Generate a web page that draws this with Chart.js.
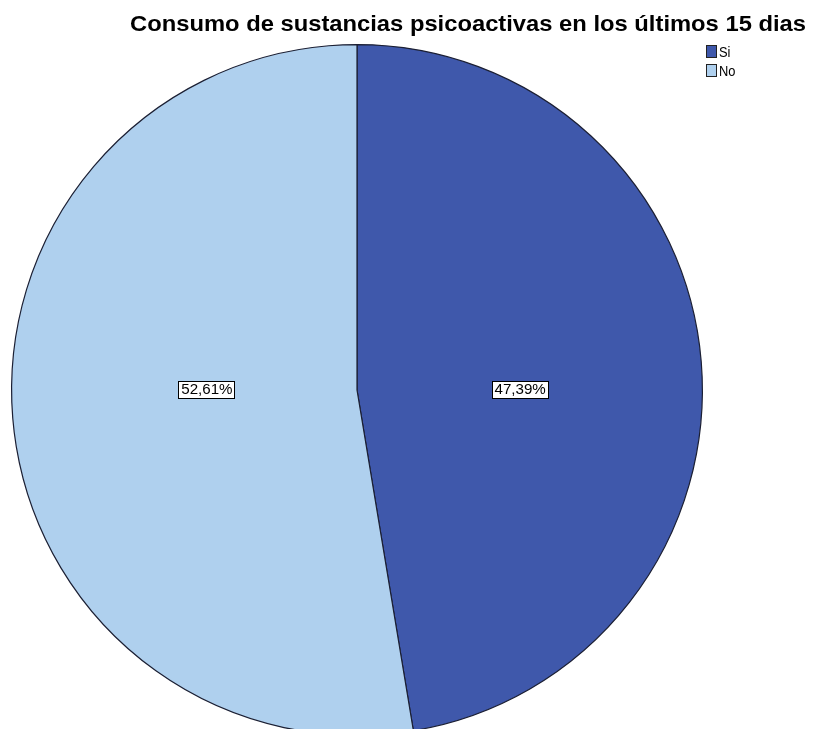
<!DOCTYPE html>
<html>
<head>
    <meta charset="utf-8">
    <title>Consumo de sustancias psicoactivas</title>
    <script src="https://cdn.jsdelivr.net/npm/chart.js@4.4.0/dist/chart.umd.min.js"></script>
    <style>
        html, body { margin: 0; padding: 0; background: #fff; overflow: hidden; }
        #wrap { width: 813px; height: 760px; position: relative; }
    </style>
</head>
<body>
    <div id="wrap"><canvas id="chart"></canvas></div>
    <script>
        const chartTitle = 'Consumo de sustancias psicoactivas en los últimos 15 dias';
        const categories = ['Si', 'No'];
        const percents = [47.39, 52.61];
        const sliceColors = ['#3f58ab', '#afd0ee'];

        const fmt = v => v.toFixed(2).replace('.', ',') + '%';

        // draw text squeezed/stretched horizontally
        function wideText(ctx, txt, cx, y, sx) {
            ctx.save();
            ctx.translate(cx, y);
            ctx.scale(sx, 1);
            ctx.fillText(txt, 0, 0);
            ctx.restore();
        }

        // title, small legend top-right and boxed percentage labels
        const decorations = {
            id: 'decorations',
            afterDraw(chart) {
                const ctx = chart.ctx;
                ctx.save();

                ctx.font = 'bold 22px "Liberation Sans", Arial, sans-serif';
                ctx.fillStyle = '#000';
                ctx.textAlign = 'center';
                ctx.textBaseline = 'alphabetic';
                const tw = ctx.measureText(chartTitle).width;
                wideText(ctx, chartTitle, 468, 31, 676 / tw);

                ctx.font = '14px "Liberation Sans", Arial, sans-serif';
                ctx.textAlign = 'left';
                categories.forEach((c, i) => {
                    const y = 45 + i * 19;
                    ctx.fillStyle = sliceColors[i];
                    ctx.fillRect(706, y, 10, 12);
                    ctx.strokeStyle = '#222';
                    ctx.lineWidth = 1;
                    ctx.strokeRect(706.5, y + 0.5, 10, 12);
                    ctx.fillStyle = '#000';
                    wideText(ctx, c, 719, y + 12, 0.92);
                });

                const meta = chart.getDatasetMeta(0);
                ctx.font = '14px "Liberation Sans", Arial, sans-serif';
                ctx.textAlign = 'center';
                ctx.textBaseline = 'middle';
                meta.data.forEach((arc, i) => {
                    const p = arc.getProps(['x', 'y', 'startAngle', 'endAngle', 'outerRadius'], true);
                    const mid = (p.startAngle + p.endAngle) / 2;
                    const x = p.x + Math.cos(mid) * p.outerRadius * 0.455 + 6;
                    const y = p.y;
                    const txt = fmt(percents[i]);
                    const sx = 1.08;
                    const w = Math.round(ctx.measureText(txt).width * sx + 5);
                    const h = 17;
                    const bx = Math.round(x - w / 2), by = Math.round(y - h / 2) - 1;
                    ctx.fillStyle = '#fff';
                    ctx.fillRect(bx, by, w, h);
                    ctx.strokeStyle = '#000';
                    ctx.strokeRect(bx + 0.5, by + 0.5, w, h);
                    ctx.fillStyle = '#000';
                    wideText(ctx, txt, x + 0.5, by + h / 2 + 1, sx);
                });
                ctx.restore();
            }
        };

        new Chart(document.getElementById('chart'), {
            type: 'pie',
            data: {
                labels: categories,
                datasets: [{
                    data: percents,
                    backgroundColor: sliceColors,
                    borderColor: '#1b1f33',
                    borderWidth: 1.2
                }]
            },
            options: {
                responsive: true,
                maintainAspectRatio: false,
                animation: false,
                layout: { padding: { left: 11, right: 110, top: 44, bottom: 24 } },
                plugins: {
                    legend: { display: false },
                    tooltip: { enabled: false }
                }
            },
            plugins: [decorations]
        });
    </script>
</body>
</html>
